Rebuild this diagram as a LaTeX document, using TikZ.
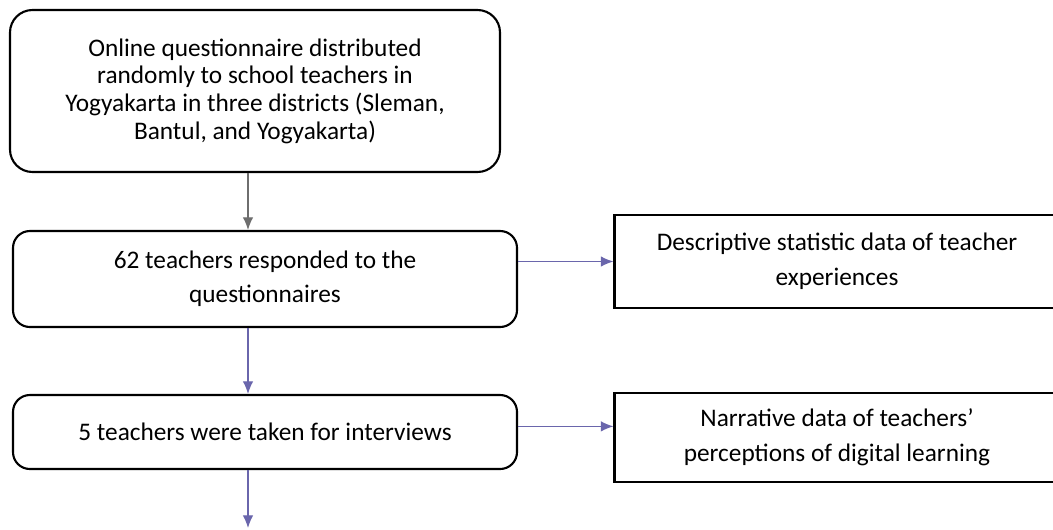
\documentclass[tikz,border=0pt]{standalone}
\usepackage{fontspec}
\setmainfont{Carlito}
\usetikzlibrary{arrows.meta,positioning,calc}
\definecolor{flowgray}{HTML}{6E6E6E}
\definecolor{flowblue}{HTML}{6A66AC}
\begin{document}
\begin{tikzpicture}[x=0.025cm,y=-0.025cm,>={Latex[length=9pt,width=7.5pt]},
  roundbox/.style={draw,line width=1.5pt,rounded corners=12pt,align=center,inner sep=0pt,font=\fontsize{18}{24}\selectfont},
  plainbox/.style={draw,line width=1.5pt,align=center,inner sep=0pt,font=\fontsize{18}{24.6}\selectfont},
  flow/.style={->,line width=0.9pt,draw=flowblue,fill=flowblue}]
\useasboundingbox (0,0) rectangle (1053,529);
\clip (0,0) rectangle (1053,529);
\coordinate (axis) at (248,0);
\node[roundbox,rounded corners=16pt,font=\fontsize{18}{19.7}\selectfont,minimum width=490*0.025cm,minimum height=162*0.025cm] (quest) at (255,91) {Online questionnaire distributed\\randomly to school teachers in\\Yogyakarta in three districts (Sleman,\\Bantul, and Yogyakarta)};
\node[roundbox,minimum width=504*0.025cm,minimum height=96*0.025cm] (resp) at (265,279) {62 teachers responded to the\\questionnaires};
\node[roundbox,minimum width=504*0.025cm,minimum height=74*0.025cm] (intv) at (265,432) {5 teachers were taken for interviews};
\node[plainbox,minimum width=445*0.025cm,minimum height=93*0.025cm] (desc) at (837,261.5) {Descriptive statistic data of teacher\\experiences};
\node[plainbox,minimum width=445*0.025cm,minimum height=89*0.025cm] (narr) at (837,437.5) {Narrative data of teachers'\\perceptions of digital learning};
\coordinate (end) at (248,528);
\draw[flow,draw=flowgray,fill=flowgray] (quest.south -| axis) -- (resp.north -| axis);
\draw[flow] (resp.south -| axis) -- (intv.north -| axis);
\draw[flow] (intv.south -| axis) -- (end);
\draw[flow] (resp.east |- desc.west) -- (desc.west);
\draw[flow] ([yshift=4pt]intv.east) -- ([yshift=4pt]intv.east -| narr.west);
\end{tikzpicture}
\end{document}
